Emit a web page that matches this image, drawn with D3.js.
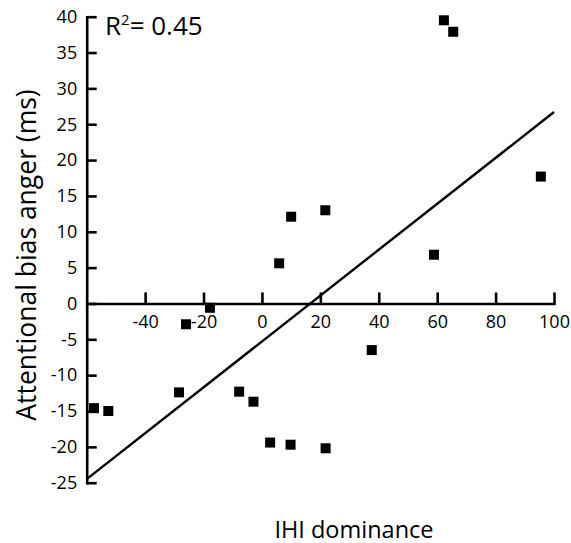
<!DOCTYPE html>
<html>
<head>
<meta charset="utf-8">
<script src="https://cdn.jsdelivr.net/npm/d3@7"></script>
<style>
  html, body { margin: 0; padding: 0; background: #fff; }
  svg { display: block; font-family: "Open Sans", "Noto Sans", sans-serif; }
</style>
</head>
<body>
<svg id="chart" width="571" height="543"></svg>
<script>
// IHI dominance (x) vs attentional bias to anger in ms (y), one square per participant
const ihiDominance = [-57.5, -52.6, -28.4, -26.0, -17.8, -7.8, -2.9, 2.8, 9.8, 21.8, 37.6, 62.3, 65.5, 95.5, 21.7, 10.0, 58.9, 5.9];
const biasAnger    = [-14.6, -15.0, -12.4, -2.9, -0.6, -12.3, -13.7, -19.4, -19.7, -20.2, -6.5, 39.5, 37.9, 17.7, 13.0, 12.1, 6.8, 5.6];

// Fitted regression line: bias = intercept + slope * dominance
const fitIntercept = -5.3;
const fitSlope = 0.32;
const fitRange = [-60, 100];

const xTicks = [-40, -20, 0, 20, 40, 60, 80, 100];
const yTicks = [40, 35, 30, 25, 20, 15, 10, 5, 0, -5, -10, -15, -20, -25];
const rSquaredLabel = "0.45";

const svg = d3.select("#chart");

const x = d3.scaleLinear().domain([-60, 100]).range([86.7, 554]);
const y = d3.scaleLinear().domain([-25, 40]).range([482.7, 16.7]);

// plain hyphen for negatives
const fmt = d => String(d);

// Y axis: ticks point right into the plot, labels on the left
const yAxis = d3.axisLeft(y)
  .tickValues(yTicks)
  .tickSizeInner(-10)
  .tickSizeOuter(0)
  .tickPadding(9.5)
  .tickFormat(fmt);

const gy = svg.append("g")
  .attr("transform", `translate(${x(-60)},0)`)
  .call(yAxis);

// X axis drawn along y = 0, ticks pointing up, labels underneath
const xAxis = d3.axisBottom(x)
  .tickValues(xTicks)
  .tickSizeInner(-11)
  .tickSizeOuter(0)
  .tickPadding(11.5)
  .tickFormat(fmt);

const gx = svg.append("g")
  .attr("transform", `translate(0,${y(0)})`)
  .call(xAxis);

[gx, gy].forEach(g => {
  g.selectAll("path.domain")
    .attr("stroke", "#000")
    .attr("stroke-width", 2.6)
    .attr("stroke-linecap", "square");
  g.selectAll(".tick line")
    .attr("stroke", "#000")
    .attr("stroke-width", 2.6);
  g.selectAll(".tick text")
    .attr("fill", "#000")
    .style("font-size", "18px")
    .style("font-family", "\"Open Sans\", sans-serif");
});

// Regression line
const fitLine = fitRange.map(v => ({ x: v, y: fitIntercept + fitSlope * v }));
svg.append("path")
  .datum(fitLine)
  .attr("fill", "none")
  .attr("stroke", "#000")
  .attr("stroke-width", 2.4)
  .attr("d", d3.line().x(d => x(d.x)).y(d => y(d.y)));

// Data points
const pts = ihiDominance.map((v, i) => ({ x: v, y: biasAnger[i] }));
const side = 10;
svg.append("g")
  .selectAll("rect")
  .data(pts)
  .join("rect")
  .attr("x", d => x(d.x) - side / 2)
  .attr("y", d => y(d.y) - side / 2)
  .attr("width", side)
  .attr("height", side)
  .attr("fill", "#000");

// R² annotation
const r2 = svg.append("text")
  .attr("x", 105)
  .attr("y", 35)
  .attr("fill", "#000")
  .style("font-size", "26px");
r2.append("tspan").text("R");
r2.append("tspan").attr("dy", -10).style("font-size", "15px").text("2");
r2.append("tspan").attr("dy", 10).text("= " + rSquaredLabel);

// Axis titles
svg.append("text")
  .attr("x", 354)
  .attr("y", 537.5)
  .attr("text-anchor", "middle")
  .attr("fill", "#000")
  .style("font-size", "23.5px")
  .text("IHI dominance");

svg.append("text")
  .attr("transform", "translate(36,255) rotate(-90)")
  .attr("text-anchor", "middle")
  .attr("fill", "#000")
  .style("font-size", "26.5px")
  .text("Attentional bias anger (ms)");
</script>
</body>
</html>
